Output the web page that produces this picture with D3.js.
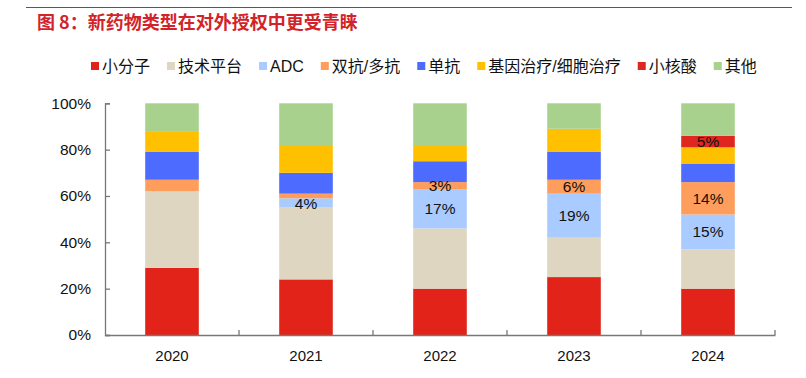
<!DOCTYPE html>
<html><head><meta charset="utf-8">
<script src="https://cdn.jsdelivr.net/npm/d3@7"></script>
<style>
body{margin:0;background:#fff;}
svg{display:block;font-family:"Liberation Sans",Arial,"Noto Sans CJK SC",sans-serif;}
</style></head>
<body><svg id="chart" width="806" height="378"></svg>
<script>
const years = ["2020","2021","2022","2023","2024"];
const seriesNames = ["小分子","技术平台","ADC","双抗/多抗","单抗","基因治疗/细胞治疗","小核酸","其他"];
const smallMolecule = [29,24,20,25,20];
const techPlatform  = [33,31,26,17,17];
const adc           = [0,4,17,19,15];
const bispecific    = [5,2,3,6,14];
const mab           = [12,9,9,12,8];
const geneCell      = [9,12,7,10,7];
const siRNA         = [0,0,0,0,5];
const other         = [12,18,18,11,14];
// which segments carry a value label (1 = show)
const labelAdc        = [0,1,1,1,1];
const labelBispecific = [0,0,1,1,1];
const labelSiRNA      = [0,0,0,0,1];
const yTicks = [0,0.2,0.4,0.6,0.8,1.0];

const colors = ["#E2231A","#DFD6C1","#A9CBFF","#FF9D5C","#4D6BFF","#FFC000","#E0271F","#A9D18E"];
const seriesValues = [smallMolecule,techPlatform,adc,bispecific,mab,geneCell,siRNA,other];
const labelFlags = [null,null,labelAdc,labelBispecific,null,null,labelSiRNA,null];

const rows = years.map((y,i)=>{const r={year:y}; seriesNames.forEach((s,k)=>r[s]=seriesValues[k][i]/100); return r;});
const stacked = d3.stack().keys(seriesNames)(rows);

const svg = d3.select("#chart");
// header
svg.append("line").attr("x1",26).attr("x2",792).attr("y1",7.5).attr("y2",7.5)
  .attr("stroke","#D2232A").attr("stroke-width",1.2);
svg.append("text").attr("x",37).attr("y",29).attr("fill","#D2232A")
  .attr("font-size",18).attr("font-weight","bold")
  .attr("font-family","'Noto Sans CJK SC','Liberation Sans',sans-serif")
  .text("图 8：新药物类型在对外授权中更受青睐");

const x = d3.scaleBand().domain(years).range([105,775]).paddingInner(0.6).paddingOuter(0.3);
const xEdge = d3.scaleBand().domain(years).range([105,775]).padding(0);
const y = d3.scaleLinear().domain([0,1]).range([335,103.3]);

// bars
const g = svg.append("g");
stacked.forEach((layer,k)=>{
  g.selectAll(null).data(layer).enter().append("rect")
    .attr("x",d=>x(d.data.year)).attr("width",x.bandwidth())
    .attr("y",d=>y(d[1])).attr("height",d=>Math.max(0,y(d[0])-y(d[1])))
    .attr("fill",colors[k]);
});
// labels
stacked.forEach((layer,k)=>{
  const flags = labelFlags[k]; if(!flags) return;
  g.selectAll(null).data(layer.filter((d,i)=>flags[i])).enter().append("text")
    .attr("x",d=>x(d.data.year)+x.bandwidth()/2)
    .attr("y",d=>(y(d[0])+y(d[1]))/2).attr("dy","0.36em")
    .attr("text-anchor","middle").attr("font-size",15.5).attr("fill","#111")
    .text(d=>Math.round((d[1]-d[0])*100)+"%");
});

// y axis
const yAxis = d3.axisLeft(y).tickValues(yTicks).tickFormat(d3.format(".0%")).tickSize(-5).tickPadding(14);
const ya = svg.append("g").attr("transform","translate(105,0)").call(yAxis);
ya.selectAll("text").attr("font-size",15.5).attr("fill","#111");
ya.select(".domain").attr("stroke","#777").attr("stroke-width",1.3);
ya.selectAll(".tick line").attr("stroke","#777").attr("stroke-width",1.3);

// x axis
const xAxis = d3.axisBottom(x).tickSize(0).tickPadding(15);
const xa = svg.append("g").attr("transform","translate(0,335)").call(xAxis);
xa.select(".domain").attr("stroke","#777").attr("stroke-width",1.3);
xa.selectAll("text").attr("font-size",15).attr("fill","#111");
const edges = years.map(d=>xEdge(d)+xEdge.bandwidth());
xa.selectAll(".edge").data(edges).enter().append("line")
  .attr("x1",d=>d).attr("x2",d=>d).attr("y1",0).attr("y2",-5)
  .attr("stroke","#777").attr("stroke-width",1.3);

// legend
const lg = svg.append("g").attr("transform","translate(91,66)");
let lx = 0;
seriesNames.forEach((s,k)=>{
  const it = lg.append("g").attr("transform",`translate(${lx},0)`);
  it.append("rect").attr("x",0).attr("y",-4).attr("width",8).attr("height",8).attr("fill",colors[k]);
  const t = it.append("text").attr("x",11).attr("y",0).attr("dy","0.36em")
    .attr("font-size",16).attr("fill","#111").text(s);
  lx += 11 + t.node().getComputedTextLength() + 17;
});
</script></body></html>
